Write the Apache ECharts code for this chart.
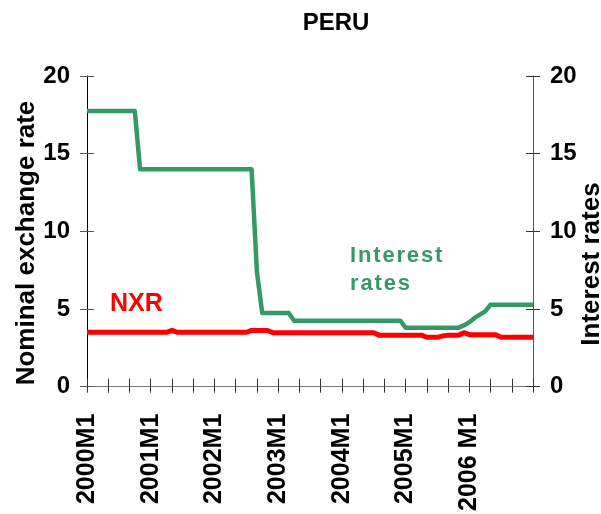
<!DOCTYPE html>
<html>
<head>
<meta charset="utf-8">
<script src="https://cdn.jsdelivr.net/npm/echarts@6/dist/echarts.min.js"></script>
<style>
html,body{margin:0;padding:0;background:#fff;}
#chart{width:601px;height:514px;}
</style>
</head>
<body>
<div id="chart"></div>
<script>
// ---- data ----
const years = [2000, 2001, 2002, 2003, 2004, 2005, 2006];
const xTickLabels = ['2000M1', '2001M1', '2002M1', '2003M1', '2004M1', '2005M1', '2006 M1'];
const yTickValues = [0, 5, 10, 15, 20];

// monthly categories 2000M1 .. 2007M1
const categories = [];
years.forEach(function (y, yi) {
  for (let m = 1; m <= 12; m++) {
    categories.push(m === 1 ? xTickLabels[yi] : y + 'M' + m);
  }
});
categories.push('2007M1');

// Interest rates (right axis)
const interestRates = [
  17.75, 17.75, 17.75, 17.75, 17.75, 17.75, 17.75, 17.75, 17.75, 17.75,
  14, 14, 14, 14, 14, 14, 14, 14, 14, 14, 14,
  14, 14, 14, 14, 14, 14, 14, 14, 14, 14, 14,
  7.4,
  4.75, 4.75, 4.75, 4.75, 4.75, 4.75,
  4.25, 4.25, 4.25, 4.25, 4.25, 4.25, 4.25, 4.25, 4.25, 4.25, 4.25,
  4.25, 4.25, 4.25, 4.25, 4.25, 4.25, 4.25, 4.25, 4.25, 4.25,
  3.8, 3.8, 3.8, 3.8, 3.8, 3.8, 3.8, 3.8, 3.8, 3.8, 3.8,
  3.95, 4.15, 4.43, 4.64, 4.85,
  5.28, 5.28, 5.28, 5.28, 5.28, 5.28, 5.28, 5.28, 5.28
];

// Nominal exchange rate (left axis)
const nxr = [
  3.5, 3.5, 3.5, 3.5, 3.5, 3.5, 3.5, 3.5, 3.5, 3.5, 3.5, 3.5, 3.5, 3.5, 3.5, 3.5,
  3.62,
  3.5, 3.5, 3.5, 3.5, 3.5, 3.5, 3.5, 3.5, 3.5, 3.5, 3.5, 3.5, 3.5, 3.5,
  3.62, 3.62, 3.62, 3.62,
  3.48, 3.48, 3.48, 3.48, 3.48, 3.48, 3.48, 3.48, 3.48, 3.48,
  3.48, 3.48, 3.48, 3.48, 3.48, 3.48, 3.48, 3.48, 3.48, 3.48,
  3.32, 3.32, 3.32, 3.32, 3.32, 3.32, 3.32, 3.32, 3.32,
  3.18, 3.18, 3.18,
  3.27, 3.32, 3.32, 3.32,
  3.48,
  3.35, 3.35, 3.35, 3.35, 3.35, 3.35,
  3.18, 3.18, 3.18, 3.18, 3.18, 3.18, 3.18
];

// ---- chart ----
const FONT = '"Liberation Sans", Arial, Helvetica, sans-serif';
const GREEN = '#339966';
const RED = '#FF0000';
const spaced = function (s) { return s.split('').join('\u200A'); };

const chart = echarts.init(document.getElementById('chart'), null, { renderer: 'canvas' });

const yBase = {
  type: 'value', min: yTickValues[0], max: yTickValues[yTickValues.length - 1], interval: 5,
  splitLine: { show: false }
};
const yLabel = {
  show: true, fontSize: 24, fontWeight: 'bold', color: '#000', fontFamily: FONT, margin: 17,
  formatter: function (v) { return yTickValues.indexOf(v) >= 0 ? String(v) : ''; }
};

chart.setOption({
  animation: false,
  backgroundColor: '#fff',
  grid: { left: 87, right: 68, top: 76, bottom: 122, containLabel: false },
  xAxis: [
    {
      type: 'category', data: categories, boundaryGap: false, position: 'bottom',
      axisLine: { show: true, lineStyle: { color: '#777', width: 1 } },
      axisTick: { show: true, interval: 3, inside: false, length: 6, lineStyle: { color: '#333' } },
      axisLabel: {
        show: true, rotate: 90, margin: 27, fontSize: 25, fontWeight: 'bold', color: '#000', fontFamily: FONT,
        interval: function (i) { return i % 12 === 0 && i < 84; },
        formatter: function (v, i) { return xTickLabels[i / 12] || v; }
      },
      splitLine: { show: false }
    },
    {
      type: 'category', data: categories, boundaryGap: false, position: 'bottom',
      axisLine: { show: false },
      axisTick: { show: true, interval: 3, inside: true, length: 8, lineStyle: { color: '#333' } },
      axisLabel: { show: false },
      splitLine: { show: false }
    }
  ],
  yAxis: [
    Object.assign({}, yBase, {
      position: 'left',
      axisLine: { show: true, lineStyle: { color: '#000', width: 1 } },
      axisTick: { show: true, inside: false, length: 7, lineStyle: { color: '#555' } },
      axisLabel: yLabel
    }),
    Object.assign({}, yBase, {
      position: 'right',
      axisLine: { show: true, lineStyle: { color: '#555', width: 1 } },
      axisTick: { show: true, inside: false, length: 7, lineStyle: { color: '#333' } },
      axisLabel: yLabel
    }),
    Object.assign({}, yBase, {
      position: 'left',
      axisLine: { show: false },
      axisTick: { show: true, inside: true, length: 7, lineStyle: { color: '#555' } },
      axisLabel: { show: false }
    }),
    Object.assign({}, yBase, {
      position: 'right',
      axisLine: { show: false },
      axisTick: { show: true, inside: true, length: 7, lineStyle: { color: '#333' } },
      axisLabel: { show: false }
    })
  ],
  series: [
    {
      name: 'NXR', type: 'line', xAxisIndex: 0, yAxisIndex: 0, data: nxr,
      showSymbol: false, symbol: 'none', smooth: false,
      lineStyle: { color: RED, width: 5, join: 'round' }
    },
    {
      name: 'Interest rates', type: 'line', xAxisIndex: 0, yAxisIndex: 1, data: interestRates,
      showSymbol: false, symbol: 'none', smooth: false,
      lineStyle: { color: GREEN, width: 4.5, join: 'round' }
    }
  ],
  graphic: [
    { type: 'text', x: 336, y: 23, style: { text: 'PERU', fill: '#000', font: 'bold 24px ' + FONT, align: 'center', verticalAlign: 'middle' } },
    { type: 'text', x: 27, y: 243, rotation: Math.PI / 2, style: { text: 'Nominal exchange rate', fill: '#000', font: 'bold 26px ' + FONT, align: 'center', verticalAlign: 'middle' } },
    { type: 'text', x: 592, y: 264, rotation: Math.PI / 2, style: { text: 'Interest rates', fill: '#000', font: 'bold 26px ' + FONT, align: 'center', verticalAlign: 'middle' } },
    { type: 'text', x: 110, y: 304, style: { text: 'NXR', fill: RED, font: 'bold 25px ' + FONT, align: 'left', verticalAlign: 'middle' } },
    { type: 'text', x: 350, y: 256, style: { text: spaced('Interest'), fill: GREEN, font: 'bold 22px ' + FONT, align: 'left', verticalAlign: 'middle' } },
    { type: 'text', x: 350, y: 284, style: { text: spaced('rates'), fill: GREEN, font: 'bold 22px ' + FONT, align: 'left', verticalAlign: 'middle' } }
  ]
});
</script>
</body>
</html>
